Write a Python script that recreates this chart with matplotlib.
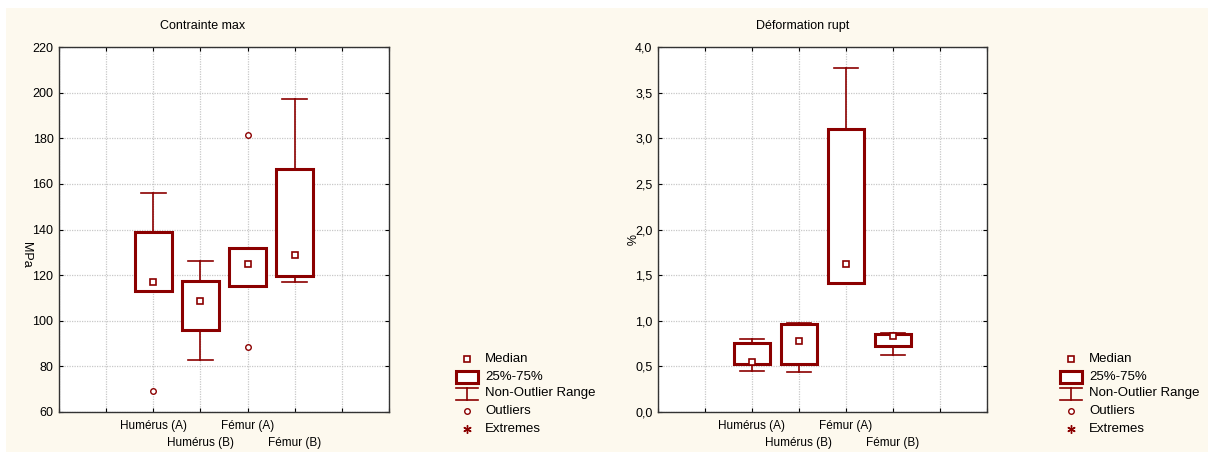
import matplotlib
matplotlib.use("Agg")
import matplotlib.pyplot as plt
from matplotlib.patches import Rectangle
from matplotlib.lines import Line2D

plt.rcParams['font.family'] = ['Liberation Sans', 'DejaVu Sans']

groups = ["Humérus (A)", "Humérus (B)", "Fémur (A)", "Fémur (B)"]
positions = [2, 3, 4, 5]

# Contrainte max (MPa)
mpa_median = [117, 108.6, 125, 128.8]
mpa_q1 = [113, 96, 115.3, 119.7]
mpa_q3 = [139, 117.4, 131.8, 166.4]
mpa_low = [113, 83, 115.3, 117.1]
mpa_high = [156.1, 126.1, 131.8, 197.1]
mpa_outliers = [[69], [], [181.3, 88.3], []]

# Deformation rupt (%)
def_median = [0.551, 0.777, 1.624, 0.832]
def_q1 = [0.526, 0.526, 1.412, 0.723]
def_q3 = [0.759, 0.967, 3.099, 0.858]
def_low = [0.453, 0.434, 1.401, 0.620]
def_high = [0.803, 0.978, 3.77, 0.869]
def_outliers = [[], [], [], []]

RED = "#8b0000"
CREAM = "#fdf9ee"

fig = plt.figure(figsize=(12.08, 4.53), dpi=100)
fig.patch.set_facecolor("white")
fig.add_artist(Rectangle((6 / 1208, 1 - 452 / 453), 1 - 6 / 1208, (452 - 8) / 453,
                         transform=fig.transFigure, facecolor=CREAM, edgecolor="none", zorder=-10))


def px(x, y):
    return x / 1208, 1 - y / 453


def draw_panel(ax, med, q1, q3, lo, hi, outl, ylim, yticks, ylabels):
    ax.set_facecolor("white")
    for i, p in enumerate(positions):
        ax.plot([p, p], [q3[i], hi[i]], color=RED, lw=1.2, zorder=3)
        ax.plot([p, p], [lo[i], q1[i]], color=RED, lw=1.2, zorder=3)
        ax.plot([p - 0.265, p + 0.265], [hi[i], hi[i]], color=RED, lw=1.2, zorder=3)
        ax.plot([p - 0.265, p + 0.265], [lo[i], lo[i]], color=RED, lw=1.2, zorder=3)
        ax.add_patch(Rectangle((p - 0.39, q1[i]), 0.78, q3[i] - q1[i], facecolor="white",
                               edgecolor=RED, lw=2.2, zorder=4))
        ax.plot(p, med[i], marker="s", ms=5, mfc="white", mec=RED, mew=1.2, zorder=5)
        for o in outl[i]:
            ax.plot(p, o, marker="o", ms=4, mfc="white", mec=RED, mew=1.0, zorder=5)
    ax.set_xlim(0, 7)
    ax.set_ylim(*ylim)
    ax.set_xticks(range(8))
    ax.set_xticklabels([])
    ax.set_yticks(yticks)
    ax.set_yticklabels(ylabels, fontsize=9)
    ax.grid(True, color="#c8c8c8", ls=(0, (1, 1)), lw=0.9)
    ax.set_axisbelow(True)
    ax.tick_params(direction="in", length=3, right=True, top=True, width=0.8, pad=4)
    for s in ax.spines.values():
        s.set_color("#333333")
        s.set_linewidth(1.0)
    tr = ax.get_xaxis_transform()
    for i, p in enumerate(positions):
        yy = -0.038 if i % 2 == 0 else -0.085
        ax.text(p, yy, groups[i], transform=tr, ha="center", va="center", fontsize=8.5)


ax1 = fig.add_axes([59 / 1208, 1 - 412 / 453, 330 / 1208, 365 / 453])
draw_panel(ax1, mpa_median, mpa_q1, mpa_q3, mpa_low, mpa_high, mpa_outliers,
           (60, 220), list(range(60, 221, 20)), [str(v) for v in range(60, 221, 20)])

ax2 = fig.add_axes([658 / 1208, 1 - 412 / 453, 329 / 1208, 365 / 453])
dticks = [0, 0.5, 1.0, 1.5, 2.0, 2.5, 3.0, 3.5, 4.0]
draw_panel(ax2, def_median, def_q1, def_q3, def_low, def_high, def_outliers,
           (0, 4), dticks, [f"{v:.1f}".replace(".", ",") for v in dticks])

# titles and y labels
x, y = px(203, 26)
fig.text(x, y, "Contrainte max", ha="center", va="center", fontsize=9)
x, y = px(803, 26)
fig.text(x, y, "Déformation rupt", ha="center", va="center", fontsize=9)
x, y = px(26, 255)
fig.text(x, y, "MPa", ha="center", va="center", rotation=270, fontsize=9)
x, y = px(629, 240)
fig.text(x, y, "%", ha="center", va="center", rotation=270, fontsize=9)

legend_labels = ["Median", "25%-75%", "Non-Outlier Range", "Outliers", "Extremes"]
legend_y = [359, 377, 393, 411, 429]


def draw_legend(xc, xt):
    tf = fig.transFigure
    x, y = px(xc, legend_y[0])
    fig.add_artist(Line2D([x], [y], marker="s", ms=5, mfc="white", mec=RED, mew=1.2,
                          ls="none", transform=tf))
    x0, y0 = px(xc - 11, 383)
    x1, y1 = px(xc + 11, 371)
    fig.add_artist(Rectangle((x0, y0), x1 - x0, y1 - y0, facecolor="white",
                             edgecolor=RED, lw=2.2, transform=tf))
    xa, ya = px(xc - 11, 388)
    xb, yb = px(xc + 11, 400)
    fig.add_artist(Line2D([xa, xb], [ya, ya], color=RED, lw=1.2, transform=tf))
    fig.add_artist(Line2D([xa, xb], [yb, yb], color=RED, lw=1.2, transform=tf))
    xm, _ = px(xc, 0)
    fig.add_artist(Line2D([xm, xm], [ya, yb], color=RED, lw=1.2, transform=tf))
    x, y = px(xc, legend_y[3])
    fig.add_artist(Line2D([x], [y], marker="o", ms=4, mfc="white", mec=RED, mew=1.0,
                          ls="none", transform=tf))
    x, y = px(xc, legend_y[4])
    fig.add_artist(Line2D([x], [y], marker=(6, 2, 0), ms=6, mec=RED, mew=1.0,
                          ls="none", transform=tf))
    for lab, ly in zip(legend_labels, legend_y):
        x, y = px(xt, ly)
        fig.text(x, y, lab, ha="left", va="center", fontsize=9.5)


draw_legend(467, 485)
draw_legend(1071, 1089)

fig.savefig("out.png", dpi=100, facecolor=fig.get_facecolor())
